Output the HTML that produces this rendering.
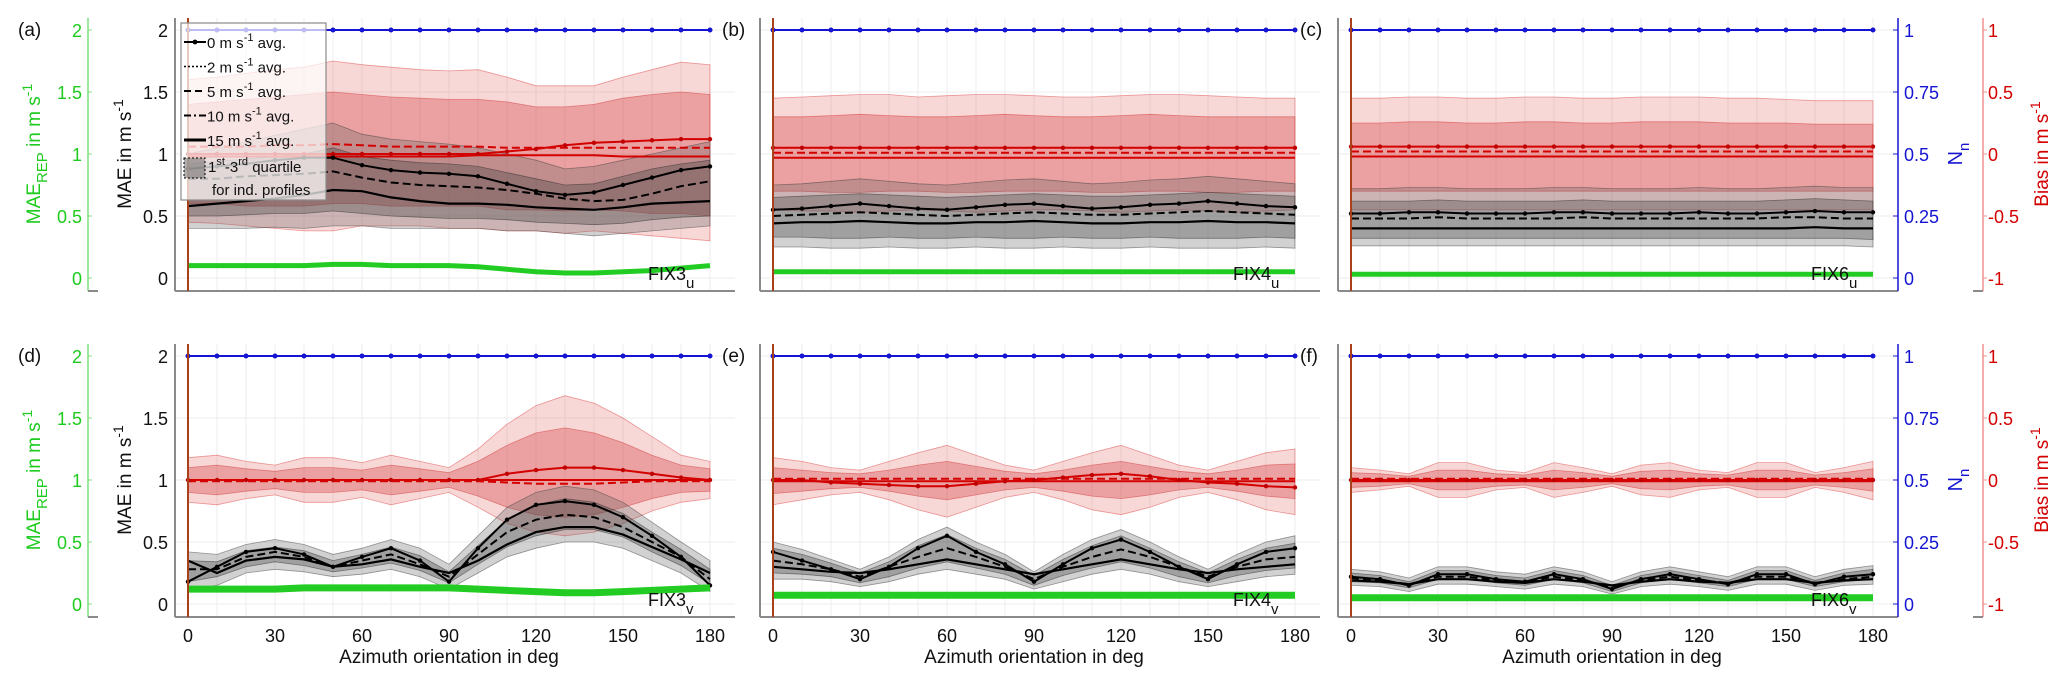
<!DOCTYPE html>
<html><head><meta charset="utf-8">
<style>
html,body{margin:0;padding:0;background:#fff;}
svg{display:block;font-family:"Liberation Sans",sans-serif;}
</style></head>
<body>
<svg id="chart" width="2067" height="688" viewBox="0 0 2067 688" xmlns="http://www.w3.org/2000/svg"></svg>
<script>
// x categories (azimuth, deg)
const azimuth = [0,10,20,30,40,50,60,70,80,90,100,110,120,130,140,150,160,170,180];
const xTickLabels = [0,30,60,90,120,150,180];
const maeTickLabels = [0,0.5,1,1.5,2];
const nnTickLabels = [0,0.25,0.5,0.75,1];
const biasTickLabels = [-1,-0.5,0,0.5,1];
const nnValues = [1,1,1,1,1,1,1,1,1,1,1,1,1,1,1,1,1,1,1];

// Panel (a) FIX3_u
const aK0 = [0.88,0.90,0.92,0.95,0.97,0.97,0.91,0.87,0.85,0.84,0.82,0.76,0.70,0.67,0.69,0.75,0.81,0.87,0.90];
const aK5 = [0.80,0.80,0.82,0.83,0.84,0.86,0.81,0.77,0.75,0.74,0.73,0.71,0.68,0.64,0.62,0.63,0.68,0.74,0.78];
const aK15 = [0.58,0.60,0.62,0.64,0.67,0.71,0.70,0.65,0.62,0.60,0.60,0.59,0.57,0.56,0.55,0.57,0.60,0.61,0.62];
const aGrayHi = [1.00,1.05,1.10,1.15,1.20,1.25,1.16,1.12,1.10,1.08,1.05,1.00,0.95,0.88,0.90,0.95,1.00,1.05,1.10];
const aGrayLo = [0.40,0.40,0.40,0.41,0.40,0.42,0.42,0.40,0.40,0.40,0.40,0.38,0.38,0.36,0.34,0.36,0.38,0.40,0.42];
const aGrayInHi = [0.92,0.94,0.96,0.98,1.00,1.05,0.98,0.95,0.93,0.92,0.90,0.85,0.80,0.75,0.76,0.82,0.88,0.92,0.95];
const aGrayInLo = [0.50,0.50,0.51,0.52,0.52,0.54,0.52,0.50,0.49,0.48,0.48,0.47,0.45,0.44,0.43,0.44,0.47,0.49,0.50];
const aRedHi = [0.60,0.62,0.65,0.68,0.70,0.75,0.72,0.70,0.68,0.67,0.68,0.62,0.55,0.55,0.55,0.62,0.68,0.74,0.72];
const aRedLo = [-0.55,-0.56,-0.58,-0.60,-0.62,-0.62,-0.58,-0.58,-0.58,-0.60,-0.60,-0.62,-0.62,-0.64,-0.62,-0.64,-0.66,-0.68,-0.70];
const aRedInHi = [0.40,0.42,0.44,0.46,0.48,0.50,0.48,0.46,0.45,0.44,0.44,0.42,0.38,0.38,0.40,0.45,0.48,0.50,0.48];
const aRedInLo = [-0.40,-0.40,-0.42,-0.42,-0.42,-0.40,-0.40,-0.42,-0.42,-0.42,-0.42,-0.45,-0.45,-0.46,-0.45,-0.46,-0.48,-0.48,-0.50];
const aR0 = [0,0,0,0,0,0,0,0,0,0,0,0.02,0.04,0.07,0.09,0.10,0.11,0.12,0.12];
const aR5 = [0.06,0.06,0.06,0.07,0.07,0.08,0.07,0.06,0.06,0.06,0.06,0.05,0.05,0.05,0.05,0.05,0.05,0.05,0.05];
const aR15 = [-0.02,-0.02,-0.02,-0.02,-0.02,-0.02,-0.02,-0.02,-0.02,-0.02,-0.01,-0.01,-0.01,-0.01,-0.01,-0.02,-0.02,-0.02,-0.02];
const aGreen = [0.10,0.10,0.10,0.10,0.10,0.11,0.11,0.10,0.10,0.10,0.09,0.07,0.05,0.04,0.04,0.05,0.06,0.08,0.10];

// Panel (b) FIX4_u
const bK0 = [0.55,0.56,0.58,0.60,0.58,0.56,0.55,0.57,0.59,0.60,0.58,0.56,0.57,0.59,0.60,0.62,0.60,0.58,0.57];
const bK5 = [0.50,0.51,0.52,0.53,0.52,0.51,0.50,0.51,0.52,0.53,0.52,0.51,0.51,0.52,0.53,0.54,0.53,0.52,0.51];
const bK15 = [0.44,0.45,0.45,0.46,0.45,0.44,0.44,0.45,0.45,0.46,0.45,0.44,0.44,0.45,0.45,0.46,0.45,0.45,0.44];
const bGrayHi = [0.75,0.76,0.78,0.80,0.78,0.76,0.75,0.77,0.79,0.80,0.78,0.76,0.77,0.79,0.80,0.82,0.80,0.78,0.76];
const bGrayLo = [0.25,0.25,0.24,0.24,0.25,0.24,0.24,0.25,0.24,0.24,0.25,0.24,0.24,0.25,0.24,0.24,0.24,0.25,0.24];
const bGrayInHi = [0.65,0.66,0.67,0.68,0.67,0.66,0.65,0.66,0.67,0.68,0.67,0.66,0.66,0.67,0.68,0.69,0.68,0.67,0.66];
const bGrayInLo = [0.33,0.33,0.32,0.32,0.33,0.32,0.32,0.33,0.32,0.32,0.33,0.32,0.32,0.33,0.32,0.32,0.32,0.33,0.32];
const bRedHi = [0.45,0.46,0.47,0.48,0.48,0.46,0.47,0.48,0.48,0.47,0.46,0.46,0.47,0.48,0.48,0.47,0.46,0.45,0.45];
const bRedLo = [-0.45,-0.46,-0.46,-0.47,-0.46,-0.45,-0.46,-0.47,-0.46,-0.45,-0.45,-0.46,-0.47,-0.46,-0.45,-0.46,-0.47,-0.46,-0.45];
const bRedInHi = [0.30,0.30,0.31,0.32,0.31,0.30,0.30,0.31,0.32,0.31,0.30,0.30,0.31,0.32,0.31,0.30,0.30,0.30,0.30];
const bRedInLo = [-0.30,-0.30,-0.31,-0.31,-0.30,-0.30,-0.31,-0.31,-0.30,-0.30,-0.30,-0.31,-0.31,-0.30,-0.30,-0.31,-0.31,-0.30,-0.30];
const bR0 = [0.05,0.05,0.05,0.05,0.05,0.05,0.05,0.05,0.05,0.05,0.05,0.05,0.05,0.05,0.05,0.05,0.05,0.05,0.05];
const bR5 = [0.01,0.01,0.01,0.01,0.01,0.01,0.01,0.01,0.01,0.01,0.01,0.01,0.01,0.01,0.01,0.01,0.01,0.01,0.01];
const bR15 = [-0.03,-0.03,-0.03,-0.03,-0.03,-0.03,-0.03,-0.03,-0.03,-0.03,-0.03,-0.03,-0.03,-0.03,-0.03,-0.03,-0.03,-0.03,-0.03];
const bGreen = [0.05,0.05,0.05,0.05,0.05,0.05,0.05,0.05,0.05,0.05,0.05,0.05,0.05,0.05,0.05,0.05,0.05,0.05,0.05];

// Panel (c) FIX6_u
const cK0 = [0.52,0.52,0.53,0.53,0.52,0.52,0.52,0.53,0.53,0.52,0.52,0.52,0.53,0.52,0.52,0.53,0.54,0.53,0.53];
const cK5 = [0.48,0.48,0.48,0.49,0.48,0.48,0.48,0.48,0.49,0.48,0.48,0.48,0.48,0.48,0.48,0.49,0.49,0.48,0.48];
const cK15 = [0.40,0.40,0.40,0.40,0.40,0.40,0.40,0.40,0.40,0.40,0.40,0.40,0.40,0.40,0.40,0.40,0.41,0.40,0.40];
const cGrayHi = [0.72,0.72,0.73,0.73,0.72,0.72,0.72,0.73,0.73,0.72,0.72,0.72,0.73,0.72,0.72,0.73,0.74,0.73,0.73];
const cGrayLo = [0.26,0.26,0.26,0.26,0.26,0.26,0.26,0.26,0.26,0.26,0.26,0.26,0.26,0.26,0.26,0.26,0.26,0.26,0.25];
const cGrayInHi = [0.62,0.62,0.62,0.63,0.62,0.62,0.62,0.62,0.63,0.62,0.62,0.62,0.62,0.62,0.62,0.63,0.64,0.63,0.62];
const cGrayInLo = [0.32,0.32,0.32,0.32,0.32,0.32,0.32,0.32,0.32,0.32,0.32,0.32,0.32,0.32,0.32,0.32,0.32,0.32,0.31];
const cRedHi = [0.45,0.45,0.46,0.46,0.45,0.45,0.46,0.46,0.45,0.45,0.46,0.46,0.46,0.45,0.45,0.44,0.43,0.43,0.43];
const cRedLo = [-0.45,-0.45,-0.45,-0.45,-0.45,-0.45,-0.45,-0.45,-0.45,-0.45,-0.45,-0.45,-0.45,-0.45,-0.45,-0.45,-0.45,-0.45,-0.45];
const cRedInHi = [0.25,0.25,0.26,0.26,0.25,0.25,0.26,0.26,0.25,0.25,0.26,0.26,0.26,0.25,0.25,0.25,0.24,0.24,0.24];
const cRedInLo = [-0.30,-0.30,-0.30,-0.30,-0.30,-0.30,-0.30,-0.30,-0.30,-0.30,-0.30,-0.30,-0.30,-0.30,-0.30,-0.30,-0.30,-0.30,-0.30];
const cR0 = [0.06,0.06,0.06,0.06,0.06,0.06,0.06,0.06,0.06,0.06,0.06,0.06,0.06,0.06,0.06,0.06,0.06,0.06,0.06];
const cR5 = [0.02,0.02,0.02,0.02,0.02,0.02,0.02,0.02,0.02,0.02,0.02,0.02,0.02,0.02,0.02,0.02,0.02,0.02,0.02];
const cR15 = [-0.02,-0.02,-0.02,-0.02,-0.02,-0.02,-0.02,-0.02,-0.02,-0.02,-0.02,-0.02,-0.02,-0.02,-0.02,-0.02,-0.02,-0.02,-0.02];
const cGreen = [0.03,0.03,0.03,0.03,0.03,0.03,0.03,0.03,0.03,0.03,0.03,0.03,0.03,0.03,0.03,0.03,0.03,0.03,0.03];

// Panel (d) FIX3_v
const dK0 = [0.18,0.30,0.42,0.45,0.40,0.30,0.38,0.45,0.35,0.18,0.45,0.68,0.80,0.83,0.80,0.70,0.55,0.38,0.15];
const dK5 = [0.28,0.28,0.38,0.42,0.38,0.30,0.35,0.40,0.32,0.22,0.40,0.58,0.68,0.72,0.70,0.62,0.50,0.38,0.20];
const dK15 = [0.35,0.25,0.35,0.38,0.36,0.30,0.32,0.36,0.30,0.25,0.35,0.48,0.58,0.62,0.62,0.56,0.46,0.36,0.25];
const dGrayHi = [0.42,0.40,0.48,0.52,0.48,0.40,0.45,0.52,0.45,0.32,0.55,0.78,0.90,0.95,0.92,0.82,0.66,0.50,0.35];
const dGrayLo = [0.12,0.15,0.25,0.28,0.26,0.22,0.24,0.28,0.22,0.12,0.25,0.38,0.45,0.50,0.50,0.45,0.35,0.25,0.10];
const dGrayInHi = [0.35,0.34,0.43,0.46,0.43,0.35,0.40,0.46,0.39,0.26,0.47,0.68,0.80,0.85,0.82,0.73,0.58,0.44,0.28];
const dGrayInLo = [0.18,0.22,0.30,0.34,0.31,0.26,0.29,0.33,0.27,0.17,0.32,0.46,0.55,0.60,0.60,0.54,0.42,0.31,0.16];
const dRedHi = [0.18,0.20,0.15,0.12,0.18,0.18,0.14,0.20,0.15,0.10,0.25,0.45,0.60,0.68,0.62,0.50,0.35,0.20,0.15];
const dRedLo = [-0.18,-0.20,-0.15,-0.12,-0.18,-0.18,-0.14,-0.20,-0.15,-0.10,-0.22,-0.35,-0.42,-0.45,-0.42,-0.35,-0.25,-0.18,-0.15];
const dRedInHi = [0.10,0.12,0.09,0.07,0.10,0.10,0.08,0.12,0.09,0.06,0.15,0.28,0.38,0.42,0.38,0.30,0.20,0.12,0.09];
const dRedInLo = [-0.10,-0.12,-0.09,-0.07,-0.10,-0.10,-0.08,-0.12,-0.09,-0.06,-0.13,-0.22,-0.28,-0.30,-0.28,-0.22,-0.15,-0.10,-0.09];
const dR0 = [0,0,0,0,0,0,0,0,0,0,0,0.05,0.08,0.10,0.10,0.08,0.05,0.02,0];
const dR5 = [-0.01,-0.01,-0.01,-0.01,-0.01,-0.01,-0.01,-0.01,-0.01,-0.01,-0.01,-0.02,-0.03,-0.03,-0.03,-0.02,-0.01,-0.01,-0.01];
const dR15 = [0,0,0,0,0,0,0,0,0,0,0,0,0,0,0,0,0,0,0];
const dGreen = [0.12,0.12,0.12,0.12,0.13,0.13,0.13,0.13,0.13,0.13,0.12,0.11,0.10,0.09,0.09,0.10,0.11,0.12,0.13];

// Panel (e) FIX4_v
const eK0 = [0.42,0.35,0.28,0.20,0.30,0.45,0.55,0.42,0.32,0.18,0.32,0.45,0.52,0.42,0.30,0.20,0.32,0.42,0.45];
const eK5 = [0.35,0.32,0.28,0.22,0.30,0.38,0.45,0.38,0.30,0.20,0.30,0.38,0.44,0.38,0.30,0.22,0.30,0.36,0.38];
const eK15 = [0.30,0.28,0.26,0.25,0.28,0.32,0.36,0.32,0.28,0.24,0.28,0.32,0.36,0.32,0.28,0.25,0.28,0.30,0.32];
const eGrayHi = [0.50,0.44,0.36,0.28,0.38,0.52,0.62,0.50,0.40,0.26,0.40,0.52,0.60,0.50,0.38,0.28,0.40,0.50,0.55];
const eGrayLo = [0.20,0.20,0.18,0.14,0.18,0.24,0.28,0.24,0.20,0.12,0.18,0.24,0.28,0.24,0.18,0.14,0.18,0.22,0.24];
const eGrayInHi = [0.45,0.40,0.33,0.25,0.34,0.47,0.56,0.45,0.36,0.23,0.36,0.47,0.55,0.45,0.34,0.25,0.36,0.45,0.49];
const eGrayInLo = [0.25,0.24,0.22,0.17,0.22,0.29,0.34,0.29,0.24,0.15,0.23,0.29,0.34,0.29,0.22,0.17,0.23,0.27,0.29];
const eRedHi = [0.18,0.15,0.10,0.08,0.15,0.22,0.28,0.20,0.12,0.08,0.15,0.22,0.28,0.20,0.12,0.08,0.15,0.22,0.25];
const eRedLo = [-0.20,-0.16,-0.12,-0.10,-0.16,-0.24,-0.30,-0.22,-0.14,-0.10,-0.16,-0.24,-0.28,-0.22,-0.14,-0.10,-0.16,-0.24,-0.28];
const eRedInHi = [0.10,0.08,0.06,0.05,0.08,0.12,0.15,0.11,0.07,0.05,0.08,0.12,0.15,0.11,0.07,0.05,0.08,0.12,0.13];
const eRedInLo = [-0.11,-0.09,-0.07,-0.06,-0.09,-0.13,-0.16,-0.12,-0.08,-0.06,-0.09,-0.13,-0.15,-0.12,-0.08,-0.06,-0.09,-0.13,-0.15];
const eR0 = [0,0,-0.02,-0.03,-0.04,-0.05,-0.05,-0.03,-0.01,0,0.02,0.04,0.05,0.03,0,-0.02,-0.03,-0.05,-0.06];
const eR5 = [0.01,0.01,0.01,0.01,0.01,0.01,0.01,0.01,0.01,0.01,0.01,0.01,0.01,0.01,0.01,0.01,0.01,0.01,0.01];
const eR15 = [-0.01,-0.01,-0.01,-0.01,-0.01,-0.01,-0.01,-0.01,-0.01,-0.01,-0.01,-0.01,-0.01,-0.01,-0.01,-0.01,-0.01,-0.01,-0.01];
const eGreen = [0.07,0.07,0.07,0.07,0.07,0.07,0.07,0.07,0.07,0.07,0.07,0.07,0.07,0.07,0.07,0.07,0.07,0.07,0.07];

// Panel (f) FIX6_v
const fK0 = [0.22,0.20,0.15,0.24,0.24,0.20,0.18,0.24,0.20,0.12,0.20,0.24,0.20,0.16,0.24,0.24,0.16,0.22,0.24];
const fK5 = [0.21,0.19,0.16,0.22,0.22,0.19,0.18,0.22,0.19,0.14,0.19,0.22,0.19,0.17,0.22,0.22,0.17,0.20,0.22];
const fK15 = [0.19,0.18,0.16,0.20,0.20,0.18,0.17,0.20,0.18,0.15,0.18,0.20,0.18,0.17,0.20,0.20,0.17,0.19,0.20];
const fGrayHi = [0.28,0.26,0.21,0.30,0.30,0.26,0.24,0.30,0.26,0.18,0.26,0.30,0.26,0.22,0.30,0.30,0.22,0.28,0.31];
const fGrayLo = [0.15,0.14,0.10,0.16,0.16,0.14,0.12,0.16,0.14,0.08,0.14,0.16,0.14,0.11,0.16,0.16,0.11,0.15,0.16];
const fGrayInHi = [0.25,0.23,0.18,0.27,0.27,0.23,0.21,0.27,0.23,0.15,0.23,0.27,0.23,0.19,0.27,0.27,0.19,0.25,0.28];
const fGrayInLo = [0.18,0.17,0.13,0.20,0.20,0.17,0.15,0.20,0.17,0.10,0.17,0.20,0.17,0.14,0.20,0.20,0.14,0.18,0.20];
const fRedHi = [0.10,0.08,0.05,0.14,0.14,0.08,0.06,0.14,0.10,0.05,0.12,0.14,0.08,0.06,0.14,0.14,0.06,0.10,0.15];
const fRedLo = [-0.10,-0.08,-0.05,-0.14,-0.14,-0.08,-0.06,-0.14,-0.10,-0.05,-0.12,-0.14,-0.08,-0.06,-0.14,-0.14,-0.06,-0.10,-0.16];
const fRedInHi = [0.06,0.05,0.03,0.08,0.08,0.05,0.04,0.08,0.06,0.03,0.07,0.08,0.05,0.04,0.08,0.08,0.04,0.06,0.09];
const fRedInLo = [-0.06,-0.05,-0.03,-0.08,-0.08,-0.05,-0.04,-0.08,-0.06,-0.03,-0.07,-0.08,-0.05,-0.04,-0.08,-0.08,-0.04,-0.06,-0.09];
const fR0 = [0,0,0,0,0,0,0,0,0,0,0,0,0,0,0,0,0,0,0];
const fR5 = [0.01,0.01,0.01,0.01,0.01,0.01,0.01,0.01,0.01,0.01,0.01,0.01,0.01,0.01,0.01,0.01,0.01,0.01,0.01];
const fR15 = [-0.01,-0.01,-0.01,-0.01,-0.01,-0.01,-0.01,-0.01,-0.01,-0.01,-0.01,-0.01,-0.01,-0.01,-0.01,-0.01,-0.01,-0.01,-0.01];
const fGreen = [0.05,0.05,0.05,0.05,0.05,0.05,0.05,0.05,0.05,0.05,0.05,0.05,0.05,0.05,0.05,0.05,0.05,0.05,0.05];

const NS = "http://www.w3.org/2000/svg";
const svg = document.getElementById('chart');
function mk(tag, attrs, parent){
  const e = document.createElementNS(NS, tag);
  for (const k in attrs) e.setAttribute(k, attrs[k]);
  (parent||svg).appendChild(e);
  return e;
}
const colX0 = [188, 773, 1351];
const rowY0 = [278, 604];
const PW = 522, UNIT = 124;

const panels = [
 {id:'a',row:0,col:0,fix:'FIX3',sub:'u',k0:aK0,k5:aK5,k15:aK15,gh:aGrayHi,gl:aGrayLo,gih:aGrayInHi,gil:aGrayInLo,rh:aRedHi,rl:aRedLo,rih:aRedInHi,ril:aRedInLo,r0:aR0,r5:aR5,r15:aR15,g:aGreen},
 {id:'b',row:0,col:1,fix:'FIX4',sub:'u',k0:bK0,k5:bK5,k15:bK15,gh:bGrayHi,gl:bGrayLo,gih:bGrayInHi,gil:bGrayInLo,rh:bRedHi,rl:bRedLo,rih:bRedInHi,ril:bRedInLo,r0:bR0,r5:bR5,r15:bR15,g:bGreen},
 {id:'c',row:0,col:2,fix:'FIX6',sub:'u',k0:cK0,k5:cK5,k15:cK15,gh:cGrayHi,gl:cGrayLo,gih:cGrayInHi,gil:cGrayInLo,rh:cRedHi,rl:cRedLo,rih:cRedInHi,ril:cRedInLo,r0:cR0,r5:cR5,r15:cR15,g:cGreen},
 {id:'d',row:1,col:0,fix:'FIX3',sub:'v',k0:dK0,k5:dK5,k15:dK15,gh:dGrayHi,gl:dGrayLo,gih:dGrayInHi,gil:dGrayInLo,rh:dRedHi,rl:dRedLo,rih:dRedInHi,ril:dRedInLo,r0:dR0,r5:dR5,r15:dR15,g:dGreen},
 {id:'e',row:1,col:1,fix:'FIX4',sub:'v',k0:eK0,k5:eK5,k15:eK15,gh:eGrayHi,gl:eGrayLo,gih:eGrayInHi,gil:eGrayInLo,rh:eRedHi,rl:eRedLo,rih:eRedInHi,ril:eRedInLo,r0:eR0,r5:eR5,r15:eR15,g:eGreen},
 {id:'f',row:1,col:2,fix:'FIX6',sub:'v',k0:fK0,k5:fK5,k15:fK15,gh:fGrayHi,gl:fGrayLo,gih:fGrayInHi,gil:fGrayInLo,rh:fRedHi,rl:fRedLo,rih:fRedInHi,ril:fRedInLo,r0:fR0,r5:fR5,r15:fR15,g:fGreen}
];

function txt(parent, x, y, s, attrs){
  const t = mk('text', Object.assign({x:x,y:y}, attrs||{}), parent);
  t.textContent = s;
  return t;
}

panels.forEach(p => {
  const x0 = colX0[p.col], y0 = rowY0[p.row];
  const X = a => x0 + a / 180 * PW;
  const Ym = v => y0 - v * UNIT;
  const Yb = v => y0 - (v + 1) * UNIT;
  const Yn = v => y0 - v * 2 * UNIT;
  const g = mk('g', {});
  
  
  const L = x0 - 13, R = x0 + PW + 25, T = y0 - 260, B = y0 + 13;
  const grid = mk('g', {stroke:'#ececec','stroke-width':1}, g);
  
  
  azimuth.forEach(a => mk('line', {x1:X(a),x2:X(a),y1:T,y2:B}, grid));
  maeTickLabels.forEach(v => mk('line', {x1:L,x2:R,y1:Ym(v),y2:Ym(v)}, grid));
  const line = (arr, Yf) => arr.map((v,i) => (i?'L':'M') + X(azimuth[i]).toFixed(1) + ',' + Yf(v).toFixed(1)).join('');
  const band = (hi, lo, Yf) => line(hi, Yf) + lo.slice().reverse().map((v,i) => 'L' + X(azimuth[lo.length-1-i]).toFixed(1) + ',' + Yf(v).toFixed(1)).join('') + 'Z';
  let e;
  e = mk('path', {d:band(p.rh, p.rl, Yb), fill:'rgba(230,110,110,0.28)', stroke:'rgba(220,60,60,0.5)','stroke-width':0.8}, g);
  
  
  e = mk('path', {d:band(p.rih, p.ril, Yb), fill:'rgba(215,80,80,0.4)', stroke:'rgba(210,50,50,0.5)','stroke-width':0.8}, g);
  
  
  e = mk('path', {d:band(p.gh, p.gl, Ym), fill:'rgba(90,90,90,0.28)', stroke:'rgba(60,60,60,0.5)','stroke-width':0.8}, g);
  
  
  e = mk('path', {d:band(p.gih, p.gil, Ym), fill:'rgba(70,70,70,0.35)', stroke:'rgba(40,40,40,0.5)','stroke-width':0.8}, g);
  
  
  [[p.r5,'8,4',2,'bias-5ms'],[p.r15,'',2,'bias-15ms'],[p.r0,'',2,'bias-0ms']].forEach(s => {
    const l = mk('path', {d:line(s[0], Yb), fill:'none', stroke:'#d40000','stroke-width':s[2],'stroke-dasharray':s[1]}, g);
    
    
  });
  p.r0.forEach((v,i) => mk('circle', {cx:X(azimuth[i]), cy:Yb(v), r:2.2, fill:'#c00000'}, g));
  [[p.k5,'8,4',2,'mae-5ms'],[p.k15,'',2.2,'mae-15ms'],[p.k0,'',2,'mae-0ms']].forEach(s => {
    const l = mk('path', {d:line(s[0], Ym), fill:'none', stroke:'#000','stroke-width':s[2],'stroke-dasharray':s[1]}, g);
    
    
  });
  p.k0.forEach((v,i) => mk('circle', {cx:X(azimuth[i]), cy:Ym(v), r:2.2, fill:'#000'}, g));
  e = mk('path', {d:line(p.g, Ym), fill:'none', stroke:'#22cc22','stroke-width':p.row ? 7 : 5,'stroke-linejoin':'round'}, g);
  
  
  e = mk('path', {d:line(nnValues, Yn), fill:'none', stroke:'#1414d2','stroke-width':2}, g);
  
  
  nnValues.forEach((v,i) => mk('circle', {cx:X(azimuth[i]), cy:Yn(v), r:2.5, fill:'#1414d2'}, g));
  mk('line', {x1:L,x2:L,y1:T,y2:B,stroke:'#8a8a8a','stroke-width':2}, g);
  mk('line', {x1:L,x2:R,y1:B,y2:B,stroke:'#8a8a8a','stroke-width':2}, g);
  e = mk('line', {x1:x0,x2:x0,y1:T,y2:B,stroke:'#a8401a','stroke-width':2}, g);
  
  
  const letterX = p.col === 0 ? 18 : L - 38;
  e = txt(g, letterX, T + 18, '(' + p.id + ')', {'font-size':19,fill:'#111'});
  
  
  e = mk('text', {x:x0 + PW - 62, y:y0 + 2, 'font-size':18, fill:'#111'}, g);
  
  
  e.textContent = p.fix;
  const sb = mk('tspan', {dy:8, 'font-size':15}, e); sb.textContent = p.sub;
  if (p.row === 1) {
    xTickLabels.forEach(v => {
      const t = txt(g, X(v), 642, String(v), {'font-size':18,'text-anchor':'middle',fill:'#111'});
      
      
    });
    e = txt(g, x0 + PW/2, 663, 'Azimuth orientation in deg', {'font-size':19,'text-anchor':'middle',fill:'#111'});
    
    
  }
  if (p.col === 0) {
    maeTickLabels.forEach(v => {
      const t = txt(g, 168, Ym(v) + 7, String(v), {'font-size':18,'text-anchor':'end',fill:'#111'});
      
      
    });
    e = mk('text', {transform:'translate(131,' + (y0-124) + ') rotate(-90)', 'font-size':19, 'text-anchor':'middle', fill:'#111'}, g);
    
    
    e.innerHTML = 'MAE in m s<tspan dy="-8" font-size="14">-1</tspan>';
    mk('line', {x1:88,x2:88,y1:T,y2:B,stroke:'#7de07d','stroke-width':1.5}, g);
    mk('line', {x1:88,x2:98,y1:B,y2:B,stroke:'#8a8a8a','stroke-width':2}, g);
    maeTickLabels.forEach(v => {
      mk('line', {x1:88,x2:92,y1:Ym(v),y2:Ym(v),stroke:'#7de07d'}, g);
      const t = txt(g, 82, Ym(v) + 7, String(v), {'font-size':18,'text-anchor':'end',fill:'#1ecb1e'});
      
      
    });
    e = mk('text', {transform:'translate(40,' + (y0-124) + ') rotate(-90)', 'font-size':19, 'text-anchor':'middle', fill:'#1ecb1e'}, g);
    
    
    e.innerHTML = 'MAE<tspan dy="7" font-size="15">REP</tspan><tspan dy="-7"> in m s</tspan><tspan dy="-8" font-size="14">-1</tspan>';
  }
  if (p.col === 2) {
    mk('line', {x1:R,x2:R,y1:T,y2:B,stroke:'#1414d2','stroke-width':1.5}, g);
    nnTickLabels.forEach(v => {
      mk('line', {x1:R-5,x2:R,y1:Yn(v),y2:Yn(v),stroke:'#1414d2'}, g);
      const t = txt(g, R + 6, Yn(v) + 7, String(v), {'font-size':18,fill:'#1414d2'});
      
      
    });
    e = mk('text', {transform:'translate(1962,' + (y0-124) + ') rotate(-90)', 'font-size':20, 'text-anchor':'middle', fill:'#1414d2'}, g);
    
    
    e.innerHTML = 'N<tspan dy="7" font-size="15">n</tspan>';
    mk('line', {x1:1983,x2:1983,y1:T,y2:B,stroke:'#f09090','stroke-width':1.5}, g);
    mk('line', {x1:1973,x2:1983,y1:B,y2:B,stroke:'#8a8a8a','stroke-width':2}, g);
    biasTickLabels.forEach(v => {
      mk('line', {x1:1983,x2:1987,y1:Yb(v),y2:Yb(v),stroke:'#f09090'}, g);
      const t = txt(g, 1988, Yb(v) + 7, String(v), {'font-size':18,fill:'#d40000'});
      
      
    });
    e = mk('text', {transform:'translate(2048,' + (y0-124) + ') rotate(-90)', 'font-size':19, 'text-anchor':'middle', fill:'#d40000'}, g);
    
    
    e.innerHTML = 'Bias in m s<tspan dy="-8" font-size="14">-1</tspan>';
  }
});

const lg = mk('g', {});


mk('rect', {x:181,y:23,width:145,height:177,fill:'rgba(255,255,255,0.72)',stroke:'#8a8a8a','stroke-width':1.2}, lg);
const legendItems = [
  ['0 m s','-1',' avg.','', 2],
  ['2 m s','-1',' avg.','2,2', 1.5],
  ['5 m s','-1',' avg.','7,4', 2],
  ['10 m s','-1',' avg.','7,3,2,3', 2],
  ['15 m s','-1',' avg.','', 3]
];
legendItems.forEach((it, i) => {
  const y = 42 + i * 24.5;
  const row = mk('g', {}, lg);
  
  
  mk('line', {x1:184,x2:206,y1:y,y2:y,stroke:'#000','stroke-width':it[4],'stroke-dasharray':it[3]}, row);
  if (i === 0) mk('circle', {cx:195,cy:y,r:2.4,fill:'#000'}, row);
  const t = mk('text', {x:207,y:y+6,'font-size':15,fill:'#111'}, row);
  t.innerHTML = it[0] + '<tspan dy="-7" font-size="11">' + it[1] + '</tspan><tspan dy="7">' + it[2] + '</tspan>';
});
const qrow = mk('g', {}, lg);


mk('rect', {x:184,y:158,width:21,height:20,fill:'rgba(80,80,80,0.45)',stroke:'#000','stroke-dasharray':'2,2'}, qrow);
const qt = mk('text', {x:208,y:172,'font-size':15,fill:'#111'}, qrow);
qt.innerHTML = '1<tspan dy="-7" font-size="11">st</tspan><tspan dy="7">-3</tspan><tspan dy="-7" font-size="11">rd</tspan><tspan dy="7"> quartile</tspan>';
const qt2 = mk('text', {x:212,y:195,'font-size':15,fill:'#111'}, qrow);
qt2.textContent = 'for ind. profiles';
</script>
</body></html>
